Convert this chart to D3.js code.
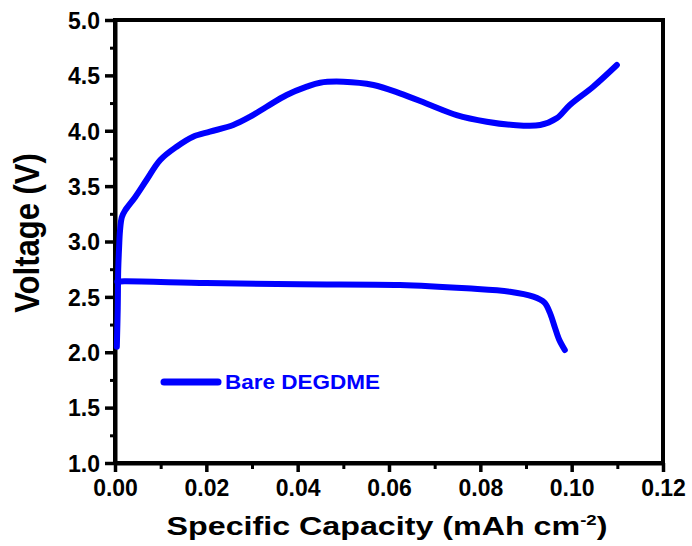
<!DOCTYPE html>
<html><head><meta charset="utf-8">
<script src="https://cdn.jsdelivr.net/npm/d3@7"></script>
<style>
html,body{margin:0;padding:0;background:#fff;}
text{font-family:"Liberation Sans",Arial,sans-serif;font-weight:bold;}
</style></head>
<body>
<svg id="chart" width="692" height="546"></svg>
<script>
// ---- data ----
const chargeCapacity = [0.0004,0.0006,0.0007,0.0009,0.0011,0.0015,0.0022,0.0044,0.0069,0.0099,0.0135,0.0171,0.0208,0.0259,0.0296,0.0332,0.0376,0.0420,0.0449,0.0500,0.0566,0.0624,0.0690,0.0748,0.0814,0.0872,0.0931,0.0967,0.0996,0.1047,0.1099];
const chargeVoltage  = [2.05,2.40,2.74,2.95,3.10,3.22,3.28,3.40,3.555,3.736,3.856,3.946,3.992,4.052,4.127,4.217,4.323,4.398,4.434,4.443,4.413,4.338,4.233,4.142,4.082,4.052,4.052,4.112,4.233,4.398,4.594];
const dischargeCapacity = [0.0005,0.0020,0.0200,0.0405,0.0624,0.0770,0.0865,0.0916,0.0940,0.0952,0.0962,0.0972,0.0985];
const dischargeVoltage  = [2.637,2.640,2.625,2.613,2.607,2.577,2.547,2.502,2.450,2.360,2.240,2.120,2.020];
const xTickValues = [0,0.02,0.04,0.06,0.08,0.10,0.12];
const xTickLabels = ["0.00","0.02","0.04","0.06","0.08","0.10","0.12"];
const yTickValues = [1.0,1.5,2.0,2.5,3.0,3.5,4.0,4.5,5.0];
const yTickLabels = ["1.0","1.5","2.0","2.5","3.0","3.5","4.0","4.5","5.0"];
const xMinor = [0.01,0.03,0.05,0.07,0.09,0.11];
const yMinor = [1.25,1.75,2.25,2.75,3.25,3.75,4.25,4.75];
const seriesName = "Bare DEGDME";
const xTitle = "Specific Capacity (mAh cm";
const yTitle = "Voltage (V)";

// ---- layout ----
const L=115, R=663, T=20, B=463;
const svg = d3.select("#chart");
const x = d3.scaleLinear().domain([0,0.12]).range([L,R]);
const y = d3.scaleLinear().domain([1,5]).range([B,T]);
const blue = "#0000ff";

// frame
svg.append("rect").attr("x",L).attr("y",T).attr("width",R-L).attr("height",B-T)
  .attr("fill","none").attr("stroke","#000").attr("stroke-width",4);

// minor ticks
const gxm = svg.append("g").attr("transform",`translate(0,${B})`)
  .call(d3.axisBottom(x).tickValues(xMinor).tickSize(6).tickSizeOuter(0).tickFormat(""));
const gym = svg.append("g").attr("transform",`translate(${L},0)`)
  .call(d3.axisLeft(y).tickValues(yMinor).tickSize(5).tickSizeOuter(0).tickFormat(""));
[gxm,gym].forEach(g=>{g.select(".domain").remove();g.selectAll(".tick line").attr("stroke","#000").attr("stroke-width",3);});

// major axes
const gx = svg.append("g").attr("transform",`translate(0,${B})`)
  .call(d3.axisBottom(x).tickValues(xTickValues).tickSize(9).tickSizeOuter(0).tickPadding(8)
    .tickFormat((d,i)=>xTickLabels[i]));
const gy = svg.append("g").attr("transform",`translate(${L},0)`)
  .call(d3.axisLeft(y).tickValues(yTickValues).tickSize(10).tickSizeOuter(0).tickPadding(5)
    .tickFormat((d,i)=>yTickLabels[i]));
[gx,gy].forEach(g=>{
  g.select(".domain").attr("stroke","#000").attr("stroke-width",4);
  g.selectAll(".tick line").attr("stroke","#000").attr("stroke-width",3.5);
  g.selectAll(".tick text").attr("fill","#000").style("font-size","23px").style("font-family",'"Liberation Sans",Arial,sans-serif').style("font-weight","bold");
});
gy.selectAll(".tick text").attr("dy","0.36em");

// curves
const line = d3.line().x(d=>x(d[0])).y(d=>y(d[1])).curve(d3.curveCatmullRom.alpha(0.5));
const charge = chargeCapacity.map((c,i)=>[c,chargeVoltage[i]]);
const discharge = dischargeCapacity.map((c,i)=>[c,dischargeVoltage[i]]);
[discharge,charge].forEach(data=>{
  svg.append("path").datum(data).attr("d",line).attr("fill","none")
    .attr("stroke",blue).attr("stroke-width",6).attr("stroke-linecap","round").attr("stroke-linejoin","round");
});

// legend
svg.append("line").attr("x1",164).attr("x2",218).attr("y1",382).attr("y2",382)
  .attr("stroke",blue).attr("stroke-width",7).attr("stroke-linecap","round");
svg.append("text").attr("x",225).attr("y",389).attr("fill",blue)
  .style("font-size","20px").attr("textLength",155).attr("lengthAdjust","spacingAndGlyphs").text(seriesName);

// axis titles
const xt = svg.append("g").attr("transform","translate(387,535) scale(1.24,1)");
const xtext = xt.append("text").attr("text-anchor","middle").style("font-size","26px").attr("fill","#000");
xtext.append("tspan").text(xTitle);
xtext.append("tspan").style("font-size","15px").attr("dy","-10").text("-2");
xtext.append("tspan").attr("dy","10").text(")");

svg.append("g").attr("transform","translate(39,233) scale(1.12,1) rotate(-90)")
  .append("text").attr("text-anchor","middle").style("font-size","31px").attr("fill","#000").text(yTitle);
</script>
</body></html>
